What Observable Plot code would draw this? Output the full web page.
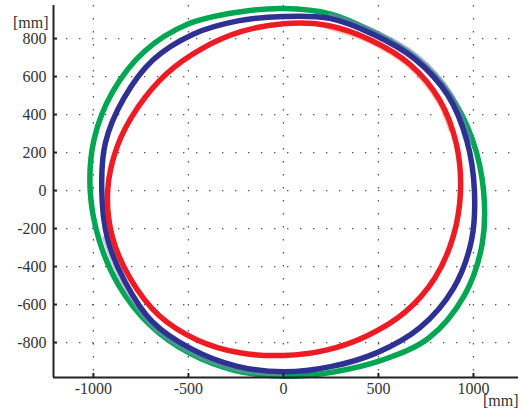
<!DOCTYPE html>
<html><head><meta charset="utf-8">
<script src="https://cdn.jsdelivr.net/npm/d3@7"></script>
<script src="https://cdn.jsdelivr.net/npm/@observablehq/plot@0.6"></script>
<style>body{margin:0;background:#fff;overflow:hidden;}</style>
</head><body><div id="chart"></div>
<script>
const xTicks = [-1000, -500, 0, 500, 1000];
const yTicks = [-800, -600, -400, -200, 0, 200, 400, 600, 800];
const unitLabel = "[mm]";

const greenX = [1053, 995, 875, 697, 480, 249, 0, -251, -505, -732, -899, -997, -1017, -970, -866, -705, -494, -254, 0, 256, 518, 765, 953, 1046];
const greenY = [0, 267, 505, 697, 831, 929, 958, 937, 875, 732, 519, 267, 0, -260, -500, -705, -856, -947, -977, -956, -893, -776, -550, -280];

const blueX = [1005, 966, 866, 692, 474, 243, 0, -239, -475, -687, -840, -937, -956, -927, -833, -690, -482, -248, 0, 248, 493, 720, 894, 989];
const blueY = [0, 259, 500, 692, 821, 906, 916, 893, 823, 687, 485, 251, 0, -248, -481, -690, -835, -924, -954, -927, -853, -720, -516, -265];

const redX = [932, 910, 823, 665, 458, 233, 0, -224, -431, -615, -764, -874, -925, -901, -805, -656, -454, -229, 0, 225, 441, 640, 797, 894];
const redY = [0, 244, 475, 665, 793, 869, 878, 836, 746, 615, 441, 234, 0, -241, -465, -656, -786, -854, -868, -840, -764, -640, -460, -240];

// faint secondary passes visible at the edges of the loops
const redFaintX = [881, 817, 660, 455, 231];
const redFaintY = [321, 472, 660, 787, 863];
const blueFaintX = [978, 878, 703, 482, 248];
const blueFaintY = [262, 507, 703, 834, 922];
const blueFaint2X = [-940, -843, -700, -490, -252, 0];
const blueFaint2Y = [-252, -487, -700, -849, -940, -966];

const pts = (xs, ys) => xs.map((x, i) => ({x, y: ys[i]}));
const xDom = [-1210, 1237], yDom = [-984, 974];
const font = "'Liberation Serif', 'Times New Roman', serif";
const fmt = d => String(d);

const plot = Plot.plot({
  width: 520, height: 416,
  marginLeft: 53, marginRight: 2, marginTop: 5, marginBottom: 39,
  x: {domain: xDom},
  y: {domain: yDom},
  style: {fontFamily: font, fontSize: "16px", color: "#333", background: "#fff"},
  marks: [
    Plot.gridX(xTicks, {stroke: "#555", strokeOpacity: 1, strokeWidth: 1.3, strokeDasharray: "1.4,11.6"}),
    Plot.gridY(yTicks, {stroke: "#555", strokeOpacity: 1, strokeWidth: 1.3, strokeDasharray: "1.4,11.6"}),
    Plot.line(pts(greenX, greenY), {x: "x", y: "y", curve: "catmull-rom-closed", stroke: "#00a651", strokeWidth: 5.5}),
    Plot.line(pts(blueFaintX, blueFaintY), {x: "x", y: "y", curve: "catmull-rom", stroke: "#7b80bd", strokeWidth: 5.5, strokeOpacity: 0.6}),
    Plot.line(pts(blueFaint2X, blueFaint2Y), {x: "x", y: "y", curve: "catmull-rom", stroke: "#8a8fc6", strokeWidth: 5.5, strokeOpacity: 0.5}),
    Plot.line(pts(blueX, blueY), {x: "x", y: "y", curve: "catmull-rom-closed", stroke: "#2e3192", strokeWidth: 5.5}),
    Plot.line(pts(redFaintX, redFaintY), {x: "x", y: "y", curve: "catmull-rom", stroke: "#f4a07c", strokeWidth: 5.5, strokeOpacity: 0.6}),
    Plot.line(pts(redX, redY), {x: "x", y: "y", curve: "catmull-rom-closed", stroke: "#ed1c24", strokeWidth: 5.5}),
    Plot.ruleX([xDom[0]], {stroke: "#222", strokeWidth: 2}),
    Plot.ruleY([yDom[0]], {stroke: "#222", strokeWidth: 2}),
    Plot.axisX(xTicks, {tickSize: -4, strokeWidth: 2, stroke: "#222", tickPadding: 9, label: null, fill: "#333", tickFormat: fmt, fontSize: 16, fontFamily: font}),
    Plot.axisY(yTicks, {tickSize: -4, strokeWidth: 2, stroke: "#222", tickPadding: 11, label: null, fill: "#333", tickFormat: fmt, fontSize: 16, fontFamily: font}),
    Plot.text([unitLabel], {frameAnchor: "top-left", textAnchor: "end", dx: -5, dy: 11, fill: "#333", fontSize: 16, fontFamily: font}),
    Plot.text([unitLabel], {frameAnchor: "bottom-right", textAnchor: "end", dy: 28, fill: "#333", fontSize: 16, fontFamily: font})
  ]
});
document.getElementById("chart").appendChild(plot);
</script>
</body></html>
